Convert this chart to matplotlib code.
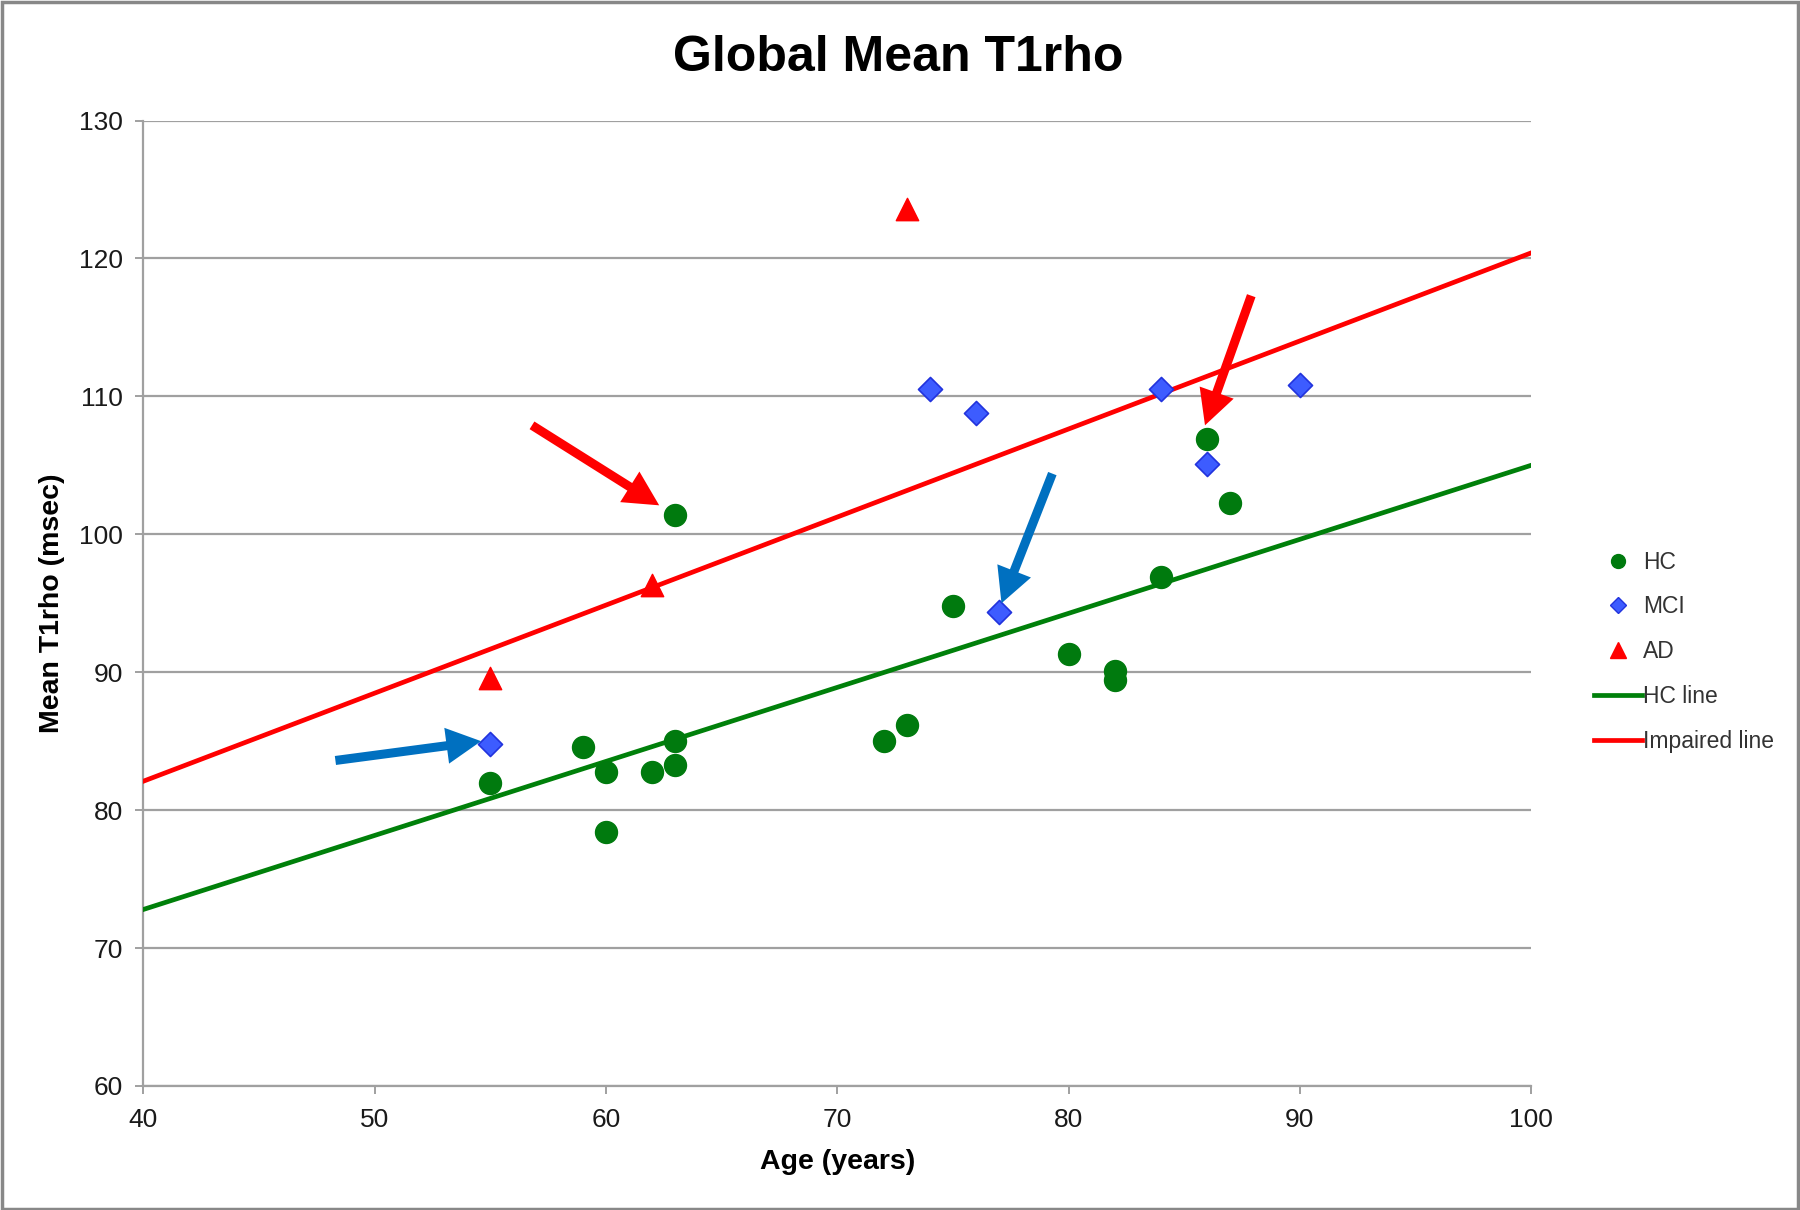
import matplotlib.pyplot as plt
from matplotlib.patches import Rectangle
from matplotlib.lines import Line2D

# data
hc_age = [55, 59, 60, 60, 62, 63, 63, 63, 72, 73, 75, 80, 82, 82, 84, 86, 87]
hc_t1 = [82.0, 84.6, 82.8, 78.4, 82.8, 85.0, 83.3, 101.4, 85.0, 86.2, 94.8,
         91.3, 90.1, 89.4, 96.9, 106.9, 102.3]
mci_age = [55, 74, 76, 77, 84, 86, 90]
mci_t1 = [84.8, 110.5, 108.8, 94.4, 110.5, 105.1, 110.8]
ad_age = [55, 62, 73]
ad_t1 = [89.6, 96.3, 123.6]

line_x = [40, 100]
hc_line = [72.8, 105.0]
impaired_line = [82.1, 120.4]

# annotation arrows (tail -> head), data coords
red_arrows = [((56.8, 107.9), (62.3, 102.1)), ((87.9, 117.3), (85.9, 107.9))]
blue_arrows = [((48.3, 83.6), (54.6, 85.0)), ((79.3, 104.4), (77.1, 95.0))]

plt.rcParams['font.family'] = ['Liberation Sans', 'DejaVu Sans']

fig = plt.figure(figsize=(18, 12.1), dpi=100)
ax = fig.add_axes([0.0797, 0.1025, 0.7709, 0.7979])

ax.set_xlim(40, 100)
ax.set_ylim(60, 130)
ax.set_xticks(range(40, 101, 10))
ax.set_yticks(range(60, 131, 10))
ax.yaxis.grid(True, color='#a0a0a0', linewidth=1.6)
ax.set_axisbelow(True)
for s in ['top', 'right']:
    ax.spines[s].set_visible(False)
for s in ['left', 'bottom']:
    ax.spines[s].set_color('#a0a0a0')
    ax.spines[s].set_linewidth(1.6)
ax.tick_params(direction='out', length=6, width=1.4, color='#a0a0a0',
               labelsize=19, labelcolor='#1a1a1a')
ax.tick_params(axis='x', pad=10)
ax.tick_params(axis='y', pad=9)

ax.plot(line_x, hc_line, color='#00800a', lw=3.4, label='HC line', zorder=3)
ax.plot(line_x, impaired_line, color='#ff0000', lw=3.4, label='Impaired line', zorder=3)

ax.scatter(hc_age, hc_t1, s=250, marker='o', color='#007a0e', zorder=4)
ax.scatter(mci_age, mci_t1, s=150, marker='D', color='#3d5cff',
           edgecolors='#2233dd', linewidths=1.2, zorder=5)
ax.scatter(ad_age, ad_t1, s=260, marker='^', color='#ff0000', zorder=5)

for tail, head in red_arrows:
    ax.annotate('', xy=head, xytext=tail,
                arrowprops=dict(width=6.5, headwidth=26, headlength=25, shrink=0,
                                color='#ff0000', lw=0), zorder=6)
for tail, head in blue_arrows:
    ax.annotate('', xy=head, xytext=tail,
                arrowprops=dict(width=6.5, headwidth=26, headlength=25, shrink=0,
                                color='#0070c0', lw=0), zorder=6)

ax.set_xlabel('Age (years)', fontsize=20.5, fontweight='bold', labelpad=12)
ax.set_ylabel('Mean T1rho (msec)', fontsize=20.5, fontweight='bold', labelpad=10)

fig.text(0.499, 0.952, 'Global Mean T1rho', ha='center', va='center',
         fontsize=36, fontweight='bold')

handles = [
    Line2D([], [], ls='none', marker='o', ms=10, color='#007a0e'),
    Line2D([], [], ls='none', marker='D', ms=8, color='#3d5cff', mec='#2233dd'),
    Line2D([], [], ls='none', marker='^', ms=11, color='#ff0000'),
    Line2D([], [], color='#00800a', lw=3.4),
    Line2D([], [], color='#ff0000', lw=3.4),
]
labels = ['HC', 'MCI', 'AD', 'HC line', 'Impaired line']
fig.legend(handles, labels, loc='center left', bbox_to_anchor=(0.8805, 0.4615),
           frameon=False, fontsize=16.5, handlelength=2.1, handletextpad=0.05,
           labelspacing=0.95, labelcolor='#333333', borderaxespad=0)

fig.patches.append(Rectangle((0.001, 0.001), 0.998, 0.997, transform=fig.transFigure,
                             fill=False, edgecolor='#888888', lw=2.5))

fig.savefig('out.png', dpi=100)
